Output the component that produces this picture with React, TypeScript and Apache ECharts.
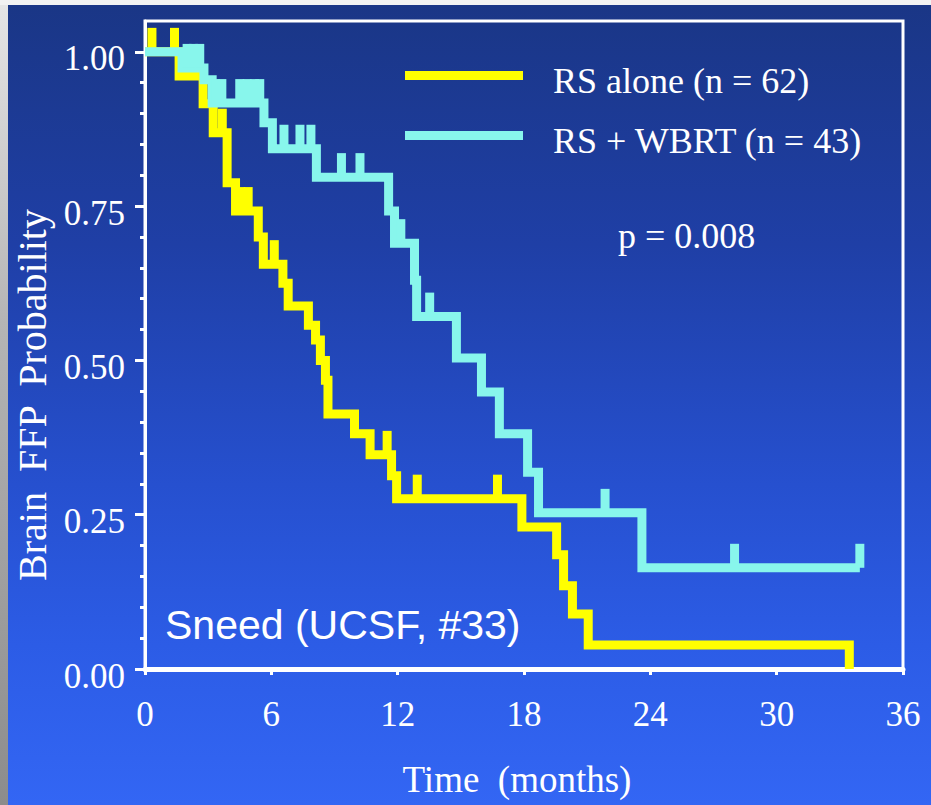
import React, { useEffect, useRef } from 'react';
import * as echarts from 'echarts';

// ---- data ----
const xTicks = [0, 6, 12, 18, 24, 30, 36];
const yTicks = [0, 0.25, 0.5, 0.75, 1.0];

const RS_ALONE = 'RS alone (n = 62)';
const RS_WBRT = 'RS + WBRT (n = 43)';

// RS alone: event times (months) and survival after each step
const rsAloneTimes = [0, 1.62, 2.76, 3.24, 3.9, 4.3, 5.38, 5.62, 6.55, 6.8, 7.76, 8.1, 8.33, 8.57, 8.69, 9.95, 10.69, 11.71, 11.95, 17.9, 19.55, 19.88, 20.3, 21.05, 33.45];
const rsAloneSurv = [1.0, 0.961, 0.916, 0.869, 0.788, 0.742, 0.7, 0.656, 0.625, 0.588, 0.557, 0.533, 0.5, 0.468, 0.413, 0.381, 0.347, 0.313, 0.276, 0.23, 0.185, 0.135, 0.089, 0.039, 0];
const rsAloneCensorTimes = [0.33, 1.4, 2.14, 3.67, 4.55, 4.9, 6.14, 11.5, 12.93, 16.74];
const rsAloneCensorSurv = [1.0, 1.0, 0.961, 0.869, 0.742, 0.742, 0.656, 0.347, 0.276, 0.276];

// RS + WBRT
const rsWbrtTimes = [0, 1.76, 2.8, 3.19, 5.65, 6.05, 8.14, 11.57, 11.85, 12.8, 12.9, 14.79, 15.98, 16.83, 18.17, 18.69, 23.6, 33.95];
const rsWbrtSurv = [1.0, 0.974, 0.955, 0.917, 0.885, 0.843, 0.797, 0.742, 0.69, 0.63, 0.571, 0.504, 0.449, 0.381, 0.319, 0.253, 0.164, 0.164];
const rsWbrtCensorTimes = [2.0, 2.3, 2.6, 3.35, 3.65, 4.5, 4.85, 5.2, 5.45, 6.6, 7.36, 7.88, 9.33, 10.21, 12.15, 13.52, 21.85, 28.0, 33.95];
const rsWbrtCensorSurv = [0.974, 0.974, 0.974, 0.917, 0.917, 0.917, 0.917, 0.917, 0.917, 0.843, 0.843, 0.843, 0.797, 0.797, 0.69, 0.571, 0.253, 0.164, 0.164];

const YELLOW = '#ffff00';
const CYAN = '#88f6ec';

function steps(times: number[], surv: number[]) {
  const pts: number[][] = [[times[0], surv[0]]];
  for (let i = 1; i < times.length; i++) {
    pts.push([times[i], surv[i - 1]]);
    pts.push([times[i], surv[i]]);
  }
  return pts;
}
function pairs(a: number[], b: number[]) {
  return a.map((v, i) => [v, b[i]]);
}

const SERIF = '"Liberation Serif", "Times New Roman", serif';
const SANS = '"Liberation Sans", Arial, sans-serif';
// legend bar drawn in the top part of a taller icon box, so the text sits lower than the bar
const LEGEND_ICON = 'path://M0 0H118V9H0ZM118 20L118 20Z';

export default function App() {
  const ref = useRef<HTMLDivElement>(null);
  useEffect(() => {
    document.body.style.margin = '0';
    if (!ref.current) return;
    const chart = echarts.init(ref.current, null, { renderer: 'svg' });
    const lineBase = {
      type: 'line' as const,
      showSymbol: false,
      symbol: 'none',
      clip: false,
      silent: true,
    };
    const censorBase = {
      type: 'scatter' as const,
      silent: true,
      clip: false,
      symbol: 'rect',
      symbolSize: [9, 24],
      symbolOffset: [0, -12],
    };
    chart.setOption({
      animation: false,
      grid: {
        left: 145, right: 28, top: 21, bottom: 136,
        show: true, borderColor: '#ffffff', borderWidth: 3,
        backgroundColor: 'transparent',
        outerBoundsMode: 'none',
      },
      legend: {
        data: [{ name: RS_ALONE, icon: LEGEND_ICON }, { name: RS_WBRT, icon: LEGEND_ICON }],
        orient: 'vertical',
        left: 400, top: 58,
        itemWidth: 118, itemHeight: 20, itemGap: 24,
        itemStyle: { borderWidth: 0 },
        textStyle: { color: '#ffffff', fontFamily: SERIF, fontSize: 36, padding: [0, 0, 0, 25] },
        selectedMode: false,
      },
      xAxis: {
        type: 'value', min: 0, max: 36, interval: 6,
        axisLine: { show: true, lineStyle: { color: '#ffffff', width: 5 } },
        axisTick: { show: true, inside: false, length: 6, lineStyle: { color: '#ffffff', width: 3 }, customValues: xTicks },
        axisLabel: { color: '#ffffff', fontFamily: SERIF, fontSize: 35, margin: 28, customValues: xTicks },
        splitLine: { show: false },
        name: 'Time  (months)', nameLocation: 'middle', nameGap: 92,
        nameTextStyle: { color: '#ffffff', fontFamily: SERIF, fontSize: 37, padding: [0, 14, 0, 0] },
      },
      yAxis: {
        type: 'value', min: 0, max: 1.05, interval: 0.25,
        axisLine: { show: true, lineStyle: { color: '#ffffff', width: 3 } },
        axisTick: { show: true, inside: false, length: 10, lineStyle: { color: '#ffffff', width: 3 }, customValues: yTicks },
        minorTick: { show: true, splitNumber: 5, length: 5, lineStyle: { color: '#ffffff', width: 3 } },
        axisLabel: {
          color: '#ffffff', fontFamily: SERIF, fontSize: 35, margin: 20,
          customValues: yTicks,
          formatter: (v: number) => `{v|${v.toFixed(2)}}`,
          rich: { v: { color: '#ffffff', fontFamily: SERIF, fontSize: 35, padding: [14, 0, 0, 0] } },
        },
        splitLine: { show: false },
        minorSplitLine: { show: false },
        name: 'Brain  FFP  Probability', nameLocation: 'middle', nameGap: 80,
        nameTextStyle: { color: '#ffffff', fontFamily: SERIF, fontSize: 40, padding: [0, 100, 0, 0] },
      },
      series: [
        {
          ...lineBase, name: RS_ALONE, color: YELLOW,
          lineStyle: { color: YELLOW, width: 9, cap: 'butt', join: 'miter' },
          data: steps(rsAloneTimes, rsAloneSurv), z: 2,
        },
        {
          ...censorBase, name: 'RS alone censored', color: YELLOW,
          itemStyle: { color: YELLOW, borderWidth: 0, opacity: 1 },
          data: pairs(rsAloneCensorTimes, rsAloneCensorSurv), z: 2,
        },
        {
          ...lineBase, name: RS_WBRT, color: CYAN,
          lineStyle: { color: CYAN, width: 9, cap: 'butt', join: 'miter' },
          data: steps(rsWbrtTimes, rsWbrtSurv), z: 3,
        },
        {
          ...censorBase, name: 'RS + WBRT censored', color: CYAN,
          itemStyle: { color: CYAN, borderWidth: 0, opacity: 1 },
          data: pairs(rsWbrtCensorTimes, rsWbrtCensorSurv), z: 3,
        },
      ],
      graphic: [
        {
          type: 'text', x: 618, y: 236,
          style: { text: 'p = 0.008', fill: '#ffffff', fontFamily: SERIF, fontSize: 36, verticalAlign: 'middle' },
        },
        {
          type: 'text', x: 165, y: 625,
          style: { text: 'Sneed (UCSF, #33)', fill: '#ffffff', fontFamily: SANS, fontSize: 41, verticalAlign: 'middle' },
        },
      ],
    });
    return () => chart.dispose();
  }, []);

  return (
    <div style={{ position: 'relative', width: 931, height: 805, overflow: 'hidden', background: 'linear-gradient(to bottom, #e6e6e6 0%, #b5b5b5 40%, #8c8c8c 100%)' }}>
      <div style={{ position: 'absolute', left: 0, top: 0, width: 931, height: 5, background: '#f2f2f2' }} />
      <div style={{ position: 'absolute', left: 8, top: 5, right: 0, bottom: 0, background: 'linear-gradient(to bottom, #1a3686 0%, #1f3fa6 30%, #2650cf 60%, #2c5ce6 80%, #3366f4 100%)' }} />
      <div ref={ref} style={{ position: 'absolute', left: 0, top: 0, width: 931, height: 805 }} />
    </div>
  );
}
